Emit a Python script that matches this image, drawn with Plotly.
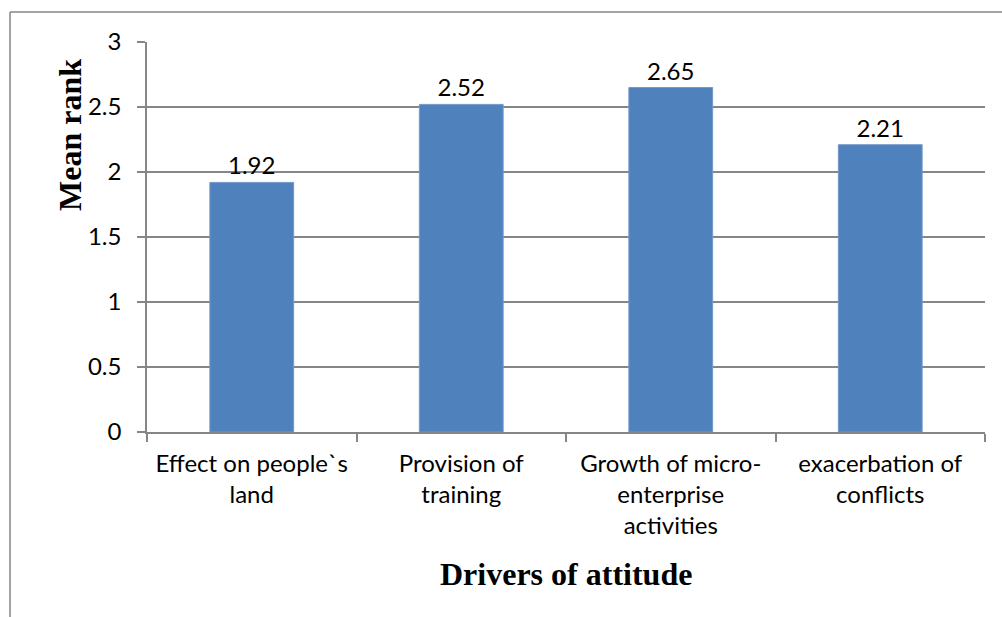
import plotly.graph_objects as go

# Mean rank of each driver of attitude
categories = [
    "Effect on people`s<br>land",
    "Provision of<br>training",
    "Growth of micro-<br>enterprise<br>activities",
    "exacerbation of<br>conflicts",
]
mean_rank = [1.92, 2.52, 2.65, 2.21]
value_labels = ["1.92", "2.52", "2.65", "2.21"]
y_ticks = [0, 0.5, 1, 1.5, 2, 2.5, 3]

AXIS_GREY = "#868686"
BAR_BLUE = "#4F81BD"
LABEL_FONT = dict(family="Lato, Carlito, Calibri, sans-serif", size=24, color="black")
TITLE_FONT = dict(family="Liberation Serif, Times New Roman, serif", size=32, color="black")

fig = go.Figure(
    go.Bar(
        x=categories,
        y=mean_rank,
        text=value_labels,
        textposition="outside",
        textfont=LABEL_FONT,
        marker=dict(color=BAR_BLUE, line=dict(color="#7399C9", width=1)),
        cliponaxis=False,
        width=0.4,
    )
)

fig.update_layout(
    width=1002,
    height=617,
    margin=dict(l=147, r=17, t=42, b=185),
    paper_bgcolor="white",
    plot_bgcolor="white",
    showlegend=False,
    font=LABEL_FONT,
    xaxis=dict(
        showline=True,
        linecolor=AXIS_GREY,
        linewidth=1.5,
        ticks="outside",
        tickson="boundaries",
        ticklen=8,
        tickcolor=AXIS_GREY,
        tickwidth=1.5,
        showgrid=False,
        tickfont=LABEL_FONT,
        ticklabelstandoff=9,
    ),
    yaxis=dict(
        range=[0, 3],
        tickvals=y_ticks,
        ticktext=[f"{v:g}" for v in y_ticks],
        showline=True,
        linecolor=AXIS_GREY,
        linewidth=1.5,
        ticks="outside",
        ticklen=8,
        tickcolor=AXIS_GREY,
        tickwidth=1.5,
        showgrid=True,
        gridcolor=AXIS_GREY,
        gridwidth=1.5,
        zeroline=False,
        tickfont=LABEL_FONT,
        ticklabelstandoff=11,
    ),
    annotations=[
        dict(
            text="<b>Mean rank</b>",
            xref="paper", yref="paper",
            x=(70 - 147) / 838, y=(432 - 135) / 390,
            xanchor="center", yanchor="middle",
            textangle=-90, showarrow=False, font=TITLE_FONT,
        ),
        dict(
            text="<b>Drivers of attitude</b>",
            xref="paper", yref="paper",
            x=(566 - 147) / 838, y=(432 - 574) / 390,
            xanchor="center", yanchor="middle",
            showarrow=False, font=TITLE_FONT,
        ),
    ],
    shapes=[
        # chart frame: left and top edges
        dict(type="line", xref="paper", yref="paper",
             x0=(10 - 147) / 838, x1=(10 - 147) / 838,
             y0=(432 - 12) / 390, y1=(432 - 640) / 390,
             line=dict(color=AXIS_GREY, width=1.5)),
        dict(type="line", xref="paper", yref="paper",
             x0=(10 - 147) / 838, x1=(1010 - 147) / 838,
             y0=(432 - 12) / 390, y1=(432 - 12) / 390,
             line=dict(color=AXIS_GREY, width=1.5)),
    ],
)

fig.write_html("out.html")
